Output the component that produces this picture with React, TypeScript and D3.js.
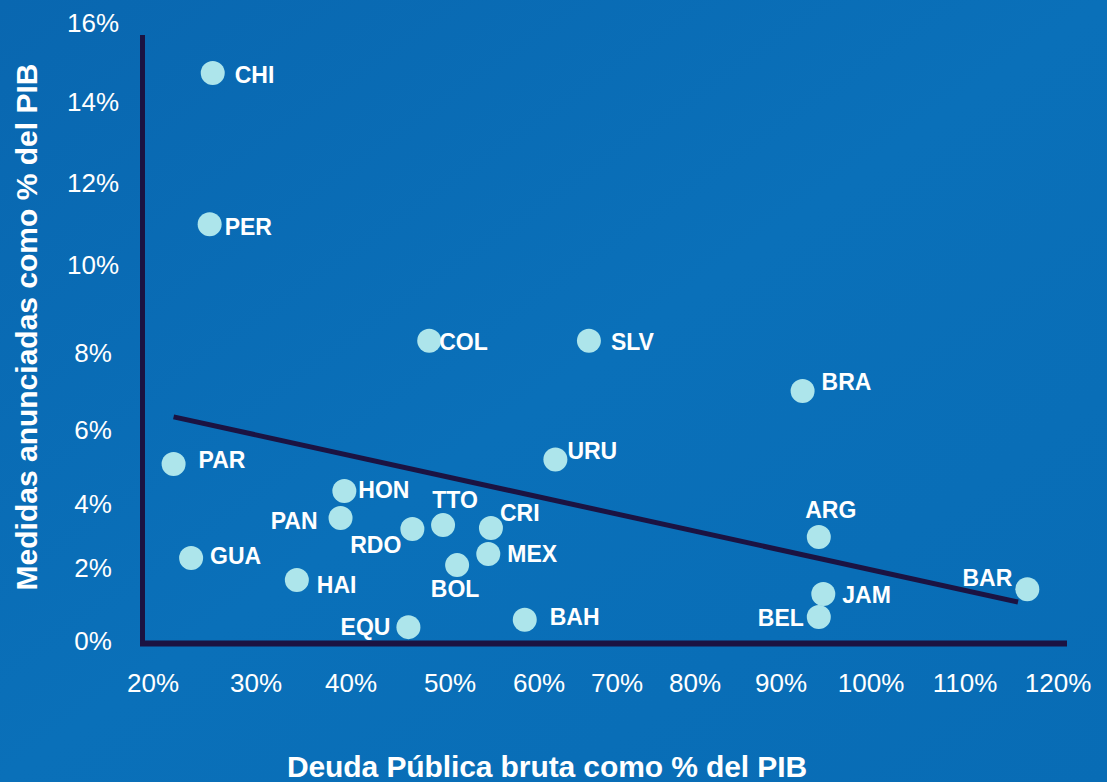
import * as d3 from "d3";
import React from "react";

// Country codes with public debt (% GDP) and announced measures (% GDP)
const countries = ["CHI", "PER", "COL", "SLV", "BRA", "URU", "PAR", "GUA", "HON", "PAN", "RDO", "TTO", "CRI", "MEX", "BOL", "HAI", "EQU", "BAH", "ARG", "JAM", "BEL", "BAR"];
const deuda = [25.8, 25.5, 47.9, 66.4, 92.4, 62.1, 22.0, 23.7, 39.3, 38.9, 46.2, 49.3, 54.6, 54.3, 50.8, 34.3, 45.8, 58.4, 94.2, 94.7, 94.2, 116.7];
const medidas = [14.73, 10.99, 8.27, 8.27, 7.01, 5.2, 5.08, 2.31, 4.35, 3.56, 3.22, 3.34, 3.25, 2.44, 2.09, 1.67, 0.38, 0.58, 2.97, 1.29, 0.66, 1.42];

// Trend line end points
const trendDeuda = [22.0, 115.7];
const trendMedidas = [6.34, 1.07];

const xTicks = [20, 30, 40, 50, 60, 70, 80, 90, 100, 110, 120];
const yTicks = [0, 2, 4, 6, 8, 10, 12, 14, 16];

const xTitle = "Deuda Pública bruta como % del PIB";
const yTitle = "Medidas anunciadas como % del PIB";

// the original axis is not evenly spaced, so the scales are piecewise
const xRange = [153, 256, 351, 450, 539, 617, 695, 781, 871, 965, 1058];
const yRange = [641, 568, 504, 430, 352.7, 264.5, 183, 102, 22.7];

// label placement: dx, dy (baseline), anchor
const labelOffsets: Record<string, [number, number, string]> = {
  CHI: [22, 9.5, "start"],
  PER: [15, 11, "start"],
  COL: [10, 9, "start"],
  SLV: [22, 9, "start"],
  BRA: [19, -1, "start"],
  URU: [12, -0.5, "start"],
  PAR: [25, 4, "start"],
  GUA: [19, 6, "start"],
  HON: [14, 7, "start"],
  PAN: [-23, 11, "end"],
  RDO: [-11, 24, "end"],
  TTO: [12, -17, "middle"],
  CRI: [9, -7, "start"],
  MEX: [19, 8, "start"],
  BOL: [-2, 32, "middle"],
  HAI: [20, 13, "start"],
  EQU: [-18, 8, "end"],
  BAH: [25, 5, "start"],
  ARG: [12, -19, "middle"],
  JAM: [19, 9, "start"],
  BEL: [-15, 9, "end"],
  BAR: [-15, -3, "end"],
};

const width = 1107;
const height = 782;
const font = "'Liberation Sans', Arial, Helvetica, sans-serif";
const axisColor = "#1b1342";
const dotColor = "#ade5eb";

export default function App() {
  const x = d3.scaleLinear().domain(xTicks).range(xRange);
  const y = d3.scaleLinear().domain(yTicks).range(yRange);

  const trend = d3
    .line<number>()
    .x((d, i) => x(trendDeuda[i]))
    .y((d) => y(d));

  return (
    <svg
      width={width}
      height={height}
      style={{ position: "absolute", left: 0, top: 0, display: "block" }}
      fontFamily={font}
    >
      <defs>
        <linearGradient id="bg" x1="0" y1="0" x2="1" y2="1">
          <stop offset="0%" stopColor="#0967b0" />
          <stop offset="50%" stopColor="#0a70b9" />
          <stop offset="100%" stopColor="#086cb5" />
        </linearGradient>
      </defs>
      <rect width={width} height={height} fill="url(#bg)" />

      {/* y tick labels */}
      {yTicks.map((t) => (
        <text
          key={"y" + t}
          x={93}
          y={y(t)}
          dy="0.36em"
          textAnchor="middle"
          fontSize={26}
          fill="#ffffff"
        >
          {t}%
        </text>
      ))}

      {/* x tick labels */}
      {xTicks.map((t) => (
        <text
          key={"x" + t}
          x={x(t)}
          y={692}
          textAnchor="middle"
          fontSize={26}
          fill="#ffffff"
        >
          {t}%
        </text>
      ))}

      {/* axes */}
      <line x1={142.5} x2={142.5} y1={35} y2={646} stroke={axisColor} strokeWidth={5} />
      <line x1={140} x2={1067} y1={y(0) + 2.5} y2={y(0) + 2.5} stroke={axisColor} strokeWidth={6} />

      {/* trend line */}
      <path d={trend(trendMedidas) || ""} fill="none" stroke={axisColor} strokeWidth={5} />

      {/* points */}
      {countries.map((c, i) => (
        <circle key={c} cx={x(deuda[i])} cy={y(medidas[i])} r={12} fill={dotColor} />
      ))}

      {/* labels */}
      {countries.map((c, i) => {
        const [dx, dy, anchor] = labelOffsets[c];
        return (
          <text
            key={"l" + c}
            x={x(deuda[i]) + dx}
            y={y(medidas[i]) + dy}
            textAnchor={anchor}
            fontSize={23}
            fontWeight="bold"
            fill="#ffffff"
          >
            {c}
          </text>
        );
      })}

      {/* axis titles */}
      <text
        x={547}
        y={777}
        textAnchor="middle"
        fontSize={30}
        fontWeight="bold"
        letterSpacing={-0.1}
        fill="#ffffff"
      >
        {xTitle}
      </text>
      <text
        transform="translate(37,327) rotate(-90)"
        textAnchor="middle"
        fontSize={30}
        fontWeight="bold"
        fill="#ffffff"
      >
        {yTitle}
      </text>
    </svg>
  );
}
